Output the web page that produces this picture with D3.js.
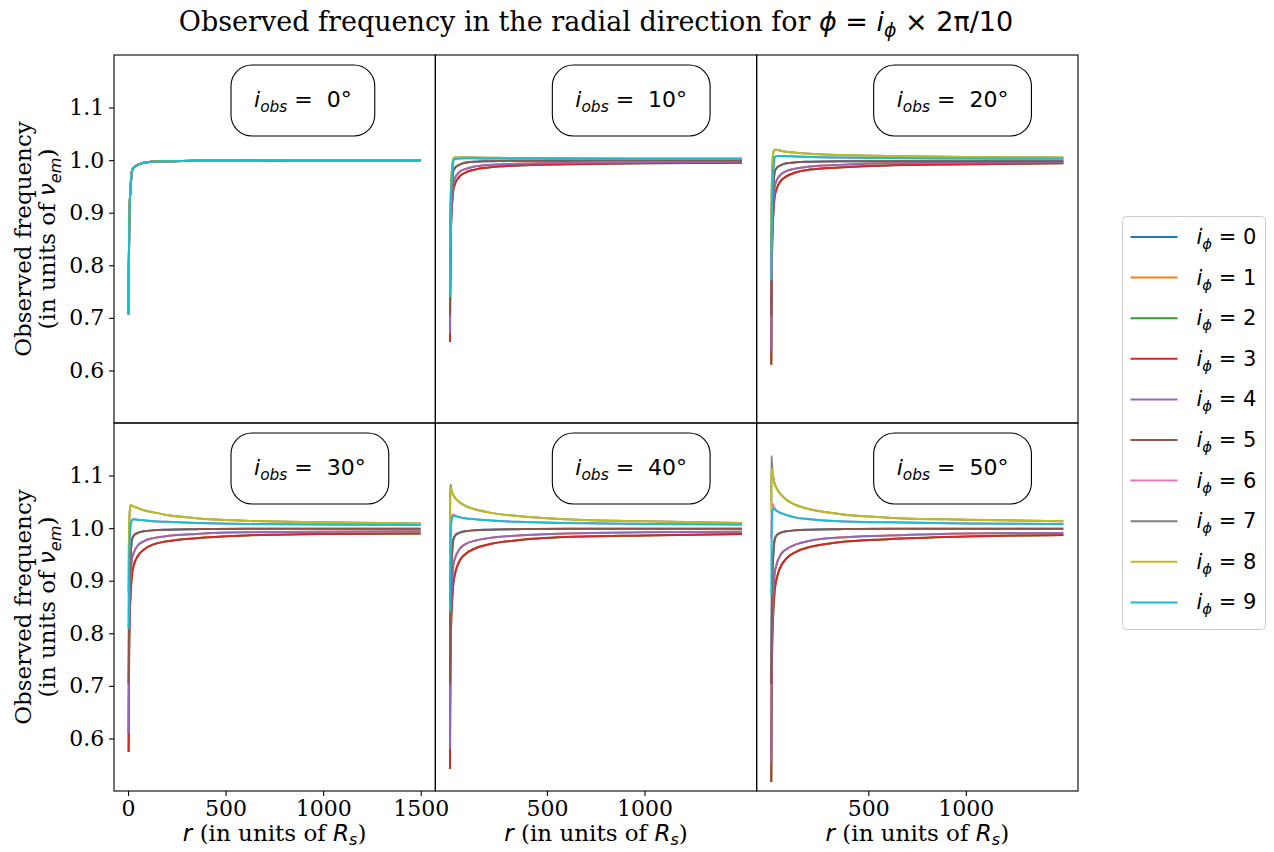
<!DOCTYPE html>
<html>
<head>
<meta charset="utf-8">
<script src="https://cdn.jsdelivr.net/npm/d3@7"></script>
<style>
  body { margin: 0; background: #fff; }
  svg { display: block; }
</style>
</head>
<body>
<svg id="chart" width="1274" height="852"></svg>
<script>
// Radii (in units of R_s) at which the observed frequency is sampled
const radii = [3, 4, 6, 9, 14, 20, 30, 50, 80, 130, 200, 350, 600, 1000, 1500];

// Observer inclinations, one panel each
const inclinations = [0, 10, 20, 30, 40, 50];

// Azimuth indices i_phi (phi = i_phi * 2pi/10)
const phiIndex = [0, 1, 2, 3, 4, 5, 6, 7, 8, 9];

const yTicks = [0.6, 0.7, 0.8, 0.9, 1.0, 1.1];
const xTicksFirst = [0, 500, 1000, 1500];
const xTicksOther = [500, 1000];

// Observed frequency (units of nu_em), one row per i_phi
const nuIncl0 = [
  [0.707, 0.794, 0.870, 0.919, 0.954, 0.979, 0.986, 0.991, 0.995, 0.997, 0.998, 0.999, 0.999, 1.000, 1.000],
  [0.707, 0.794, 0.870, 0.919, 0.954, 0.979, 0.986, 0.991, 0.995, 0.997, 0.998, 0.999, 0.999, 1.000, 1.000],
  [0.707, 0.794, 0.870, 0.919, 0.954, 0.979, 0.986, 0.991, 0.995, 0.997, 0.998, 0.999, 0.999, 1.000, 1.000],
  [0.707, 0.794, 0.870, 0.919, 0.954, 0.979, 0.986, 0.991, 0.995, 0.997, 0.998, 0.999, 0.999, 1.000, 1.000],
  [0.707, 0.794, 0.870, 0.919, 0.954, 0.979, 0.986, 0.991, 0.995, 0.997, 0.998, 0.999, 0.999, 1.000, 1.000],
  [0.707, 0.794, 0.870, 0.919, 0.954, 0.979, 0.986, 0.991, 0.995, 0.997, 0.998, 0.999, 0.999, 1.000, 1.000],
  [0.707, 0.794, 0.870, 0.919, 0.954, 0.979, 0.986, 0.991, 0.995, 0.997, 0.998, 0.999, 0.999, 1.000, 1.000],
  [0.707, 0.794, 0.870, 0.919, 0.954, 0.979, 0.986, 0.991, 0.995, 0.997, 0.998, 0.999, 0.999, 1.000, 1.000],
  [0.707, 0.794, 0.870, 0.919, 0.954, 0.979, 0.986, 0.991, 0.995, 0.997, 0.998, 0.999, 0.999, 1.000, 1.000],
  [0.707, 0.794, 0.870, 0.919, 0.954, 0.979, 0.986, 0.991, 0.995, 0.997, 0.998, 0.999, 0.999, 1.000, 1.000]
];

const nuIncl10 = [
  [0.705, 0.793, 0.869, 0.918, 0.954, 0.979, 0.986, 0.991, 0.995, 0.997, 0.998, 0.999, 0.999, 1.000, 1.000],
  [0.671, 0.762, 0.842, 0.893, 0.930, 0.956, 0.967, 0.977, 0.983, 0.988, 0.991, 0.993, 0.995, 0.996, 0.997],
  [0.654, 0.746, 0.827, 0.879, 0.917, 0.943, 0.956, 0.968, 0.976, 0.982, 0.986, 0.990, 0.992, 0.994, 0.995],
  [0.654, 0.746, 0.827, 0.879, 0.917, 0.943, 0.956, 0.968, 0.976, 0.982, 0.986, 0.990, 0.992, 0.994, 0.995],
  [0.671, 0.762, 0.842, 0.893, 0.930, 0.956, 0.967, 0.977, 0.983, 0.988, 0.991, 0.993, 0.995, 0.996, 0.997],
  [0.705, 0.793, 0.869, 0.918, 0.954, 0.979, 0.986, 0.991, 0.995, 0.997, 0.998, 0.999, 0.999, 1.000, 1.000],
  [0.740, 0.823, 0.895, 0.942, 0.975, 0.999, 1.002, 1.003, 1.0035, 1.0035, 1.003, 1.003, 1.0025, 1.002, 1.002],
  [0.760, 0.840, 0.910, 0.955, 0.985, 1.003, 1.005, 1.005, 1.005, 1.005, 1.0045, 1.004, 1.0035, 1.003, 1.003],
  [0.760, 0.840, 0.910, 0.955, 0.985, 1.003, 1.005, 1.005, 1.005, 1.005, 1.0045, 1.004, 1.0035, 1.003, 1.003],
  [0.740, 0.823, 0.895, 0.942, 0.975, 0.999, 1.002, 1.003, 1.0035, 1.0035, 1.003, 1.003, 1.0025, 1.002, 1.002]
];

const nuIncl20 = [
  [0.705, 0.793, 0.869, 0.918, 0.953, 0.977, 0.985, 0.990, 0.994, 0.996, 0.997, 0.998, 0.998, 0.998, 0.998],
  [0.638, 0.737, 0.824, 0.880, 0.920, 0.948, 0.961, 0.972, 0.979, 0.984, 0.988, 0.991, 0.994, 0.995, 0.996],
  [0.611, 0.713, 0.802, 0.860, 0.901, 0.930, 0.945, 0.960, 0.969, 0.977, 0.982, 0.986, 0.990, 0.992, 0.994],
  [0.611, 0.713, 0.802, 0.860, 0.901, 0.930, 0.945, 0.960, 0.969, 0.977, 0.982, 0.986, 0.990, 0.992, 0.994],
  [0.638, 0.737, 0.824, 0.880, 0.920, 0.948, 0.961, 0.972, 0.979, 0.984, 0.988, 0.991, 0.994, 0.995, 0.996],
  [0.705, 0.793, 0.869, 0.918, 0.953, 0.977, 0.985, 0.990, 0.994, 0.996, 0.997, 0.998, 0.998, 0.998, 0.998],
  [0.773, 0.845, 0.910, 0.955, 0.985, 1.005, 1.008, 1.008, 1.0075, 1.007, 1.006, 1.005, 1.004, 1.003, 1.0025],
  [0.830, 0.900, 0.960, 0.995, 1.015, 1.020, 1.020, 1.018, 1.016, 1.014, 1.012, 1.010, 1.008, 1.006, 1.005],
  [0.830, 0.900, 0.960, 0.995, 1.015, 1.020, 1.020, 1.018, 1.016, 1.014, 1.012, 1.010, 1.008, 1.006, 1.005],
  [0.773, 0.845, 0.910, 0.955, 0.985, 1.005, 1.008, 1.008, 1.0075, 1.007, 1.006, 1.005, 1.004, 1.003, 1.0025]
];

const nuIncl30 = [
  [0.704, 0.792, 0.868, 0.917, 0.953, 0.978, 0.986, 0.991, 0.994, 0.996, 0.997, 0.998, 0.999, 0.999, 0.999],
  [0.609, 0.715, 0.808, 0.868, 0.911, 0.941, 0.954, 0.967, 0.975, 0.981, 0.985, 0.989, 0.992, 0.993, 0.994],
  [0.574, 0.682, 0.776, 0.837, 0.881, 0.911, 0.930, 0.947, 0.959, 0.969, 0.975, 0.981, 0.986, 0.989, 0.990],
  [0.574, 0.682, 0.776, 0.837, 0.881, 0.911, 0.930, 0.947, 0.959, 0.969, 0.975, 0.981, 0.986, 0.989, 0.990],
  [0.609, 0.715, 0.808, 0.868, 0.911, 0.941, 0.954, 0.967, 0.975, 0.981, 0.985, 0.989, 0.992, 0.993, 0.994],
  [0.704, 0.792, 0.868, 0.917, 0.953, 0.978, 0.986, 0.991, 0.994, 0.996, 0.997, 0.998, 0.999, 0.999, 0.999],
  [0.809, 0.880, 0.945, 0.985, 1.008, 1.015, 1.017, 1.016, 1.015, 1.013, 1.012, 1.010, 1.008, 1.007, 1.006],
  [0.880, 0.950, 1.005, 1.033, 1.044, 1.043, 1.041, 1.038, 1.034, 1.030, 1.025, 1.019, 1.014, 1.011, 1.009],
  [0.880, 0.950, 1.005, 1.033, 1.044, 1.043, 1.041, 1.038, 1.034, 1.030, 1.025, 1.019, 1.014, 1.011, 1.009],
  [0.809, 0.880, 0.945, 0.985, 1.008, 1.015, 1.017, 1.016, 1.015, 1.013, 1.012, 1.010, 1.008, 1.007, 1.006]
];

const nuIncl40 = [
  [0.705, 0.793, 0.869, 0.918, 0.953, 0.978, 0.986, 0.991, 0.994, 0.996, 0.997, 0.998, 0.999, 0.999, 0.999],
  [0.580, 0.692, 0.789, 0.852, 0.898, 0.929, 0.944, 0.959, 0.969, 0.976, 0.981, 0.986, 0.990, 0.992, 0.993],
  [0.542, 0.655, 0.753, 0.817, 0.862, 0.894, 0.915, 0.936, 0.950, 0.961, 0.969, 0.977, 0.983, 0.986, 0.989],
  [0.542, 0.655, 0.753, 0.817, 0.862, 0.894, 0.915, 0.936, 0.950, 0.961, 0.969, 0.977, 0.983, 0.986, 0.989],
  [0.580, 0.692, 0.789, 0.852, 0.898, 0.929, 0.944, 0.959, 0.969, 0.976, 0.981, 0.986, 0.990, 0.992, 0.993],
  [0.705, 0.793, 0.869, 0.918, 0.953, 0.978, 0.986, 0.991, 0.994, 0.996, 0.997, 0.998, 0.999, 0.999, 0.999],
  [0.842, 0.910, 0.975, 1.012, 1.024, 1.026, 1.024, 1.021, 1.019, 1.017, 1.015, 1.012, 1.010, 1.008, 1.007],
  [0.950, 1.060, 1.083, 1.076, 1.068, 1.063, 1.057, 1.050, 1.043, 1.036, 1.030, 1.023, 1.017, 1.013, 1.010],
  [0.950, 1.040, 1.078, 1.075, 1.068, 1.063, 1.057, 1.050, 1.043, 1.036, 1.030, 1.023, 1.017, 1.013, 1.010],
  [0.842, 0.910, 0.970, 1.005, 1.020, 1.023, 1.023, 1.021, 1.019, 1.017, 1.015, 1.012, 1.010, 1.008, 1.007]
];

const nuIncl50 = [
  [0.704, 0.792, 0.868, 0.917, 0.953, 0.978, 0.986, 0.991, 0.994, 0.996, 0.997, 0.998, 0.999, 0.999, 0.999],
  [0.553, 0.668, 0.769, 0.834, 0.881, 0.913, 0.931, 0.949, 0.960, 0.969, 0.976, 0.982, 0.986, 0.990, 0.991],
  [0.517, 0.633, 0.735, 0.800, 0.847, 0.880, 0.903, 0.926, 0.942, 0.955, 0.964, 0.973, 0.979, 0.984, 0.987],
  [0.517, 0.633, 0.735, 0.800, 0.847, 0.880, 0.903, 0.926, 0.942, 0.955, 0.964, 0.973, 0.979, 0.984, 0.987],
  [0.553, 0.668, 0.769, 0.834, 0.881, 0.913, 0.931, 0.949, 0.960, 0.969, 0.976, 0.982, 0.986, 0.990, 0.991],
  [0.704, 0.792, 0.868, 0.917, 0.953, 0.978, 0.986, 0.991, 0.994, 0.996, 0.997, 0.998, 0.999, 0.999, 0.999],
  [0.980, 1.020, 1.040, 1.047, 1.043, 1.038, 1.033, 1.029, 1.025, 1.020, 1.017, 1.013, 1.011, 1.009, 1.008],
  [1.050, 1.137, 1.125, 1.108, 1.095, 1.085, 1.076, 1.065, 1.054, 1.044, 1.036, 1.027, 1.020, 1.016, 1.013],
  [1.030, 1.090, 1.114, 1.105, 1.094, 1.085, 1.076, 1.065, 1.054, 1.044, 1.036, 1.027, 1.020, 1.016, 1.013],
  [0.872, 0.950, 1.010, 1.032, 1.037, 1.036, 1.033, 1.029, 1.025, 1.020, 1.017, 1.013, 1.011, 1.009, 1.008]
];

const panelData = [nuIncl0, nuIncl10, nuIncl20, nuIncl30, nuIncl40, nuIncl50];

// matplotlib tab10 cycle
const colors = ["#1f77b4", "#ff7f0e", "#2ca02c", "#d62728", "#9467bd",
                "#8c564b", "#e377c2", "#7f7f7f", "#bcbd22", "#17becf"];

const SERIF = "'DejaVu Serif', 'Liberation Serif', serif";
const SANS = "'DejaVu Sans', 'Liberation Sans', sans-serif";

const TICK_FONT = 22;
const LABEL_FONT = 23;

const svg = d3.select("#chart");

// grid of 2 x 3 panels sharing both axes
const gridLeft = 114, gridTop = 55, gridRight = 1078;
const pw = (gridRight - gridLeft) / 3;
const ph = 368;

const x = d3.scaleLinear().domain([-72, 1575]).range([0, pw]);
const y = d3.scaleLinear().domain([0.5, 1.2]).range([ph, 0]);

const line = d3.line()
  .x(d => x(d[0]))
  .y(d => y(d[1]))
  .curve(d3.curveMonotoneX);

// Appends tspans: plain, italic and subscripted pieces of a label
function rich(textSel, parts, size, dropRatio = 0.24) {
  let lowered = false;
  const drop = size * dropRatio;
  parts.forEach(p => {
    const ts = textSel.append("tspan").text(p.t);
    ts.attr("font-family", p.f === "sans" ? SANS : SERIF);
    if (p.i) ts.attr("font-style", "italic");
    if (p.sub) {
      ts.attr("font-size", size * 0.7);
      if (!lowered) { ts.attr("dy", drop); lowered = true; }
    } else {
      ts.attr("font-size", size);
      if (lowered) { ts.attr("dy", -drop); lowered = false; }
    }
  });
}

panelData.forEach((rows, k) => {
  const col = k % 3, row = Math.floor(k / 3);
  const g = svg.append("g")
    .attr("transform", `translate(${gridLeft + col * pw},${gridTop + row * ph})`);

  // curves for each azimuth
  phiIndex.forEach(i => {
    g.append("path")
      .datum(radii.map((r, j) => [r, rows[i][j]]))
      .attr("d", line)
      .attr("fill", "none")
      .attr("stroke", colors[i])
      .attr("stroke-width", 2)
      .attr("stroke-linejoin", "round");
  });

  // inclination label in a rounded box
  const ann = g.append("g");
  const label = ann.append("text")
    .attr("x", 117 + 23)
    .attr("y", 52)
    .attr("fill", "#000");
  rich(label, [
    { t: "i", f: "sans", i: true },
    { t: "obs", f: "sans", i: true, sub: true },
    { t: " =\u00a0 " + inclinations[k] + "°", f: "sans" }
  ], 22);
  const tw = label.node().getComputedTextLength();
  ann.insert("rect", "text")
    .attr("x", 117)
    .attr("y", 10)
    .attr("width", tw + 46)
    .attr("height", 71)
    .attr("rx", 21)
    .attr("ry", 21)
    .attr("fill", "#fff")
    .attr("stroke", "#000")
    .attr("stroke-width", 1.1);

  // frame
  g.append("rect")
    .attr("width", pw)
    .attr("height", ph)
    .attr("fill", "none")
    .attr("stroke", "#000")
    .attr("stroke-width", 1.1);

  // y axis on the first column only
  if (col === 0) {
    const ya = g.append("g")
      .call(d3.axisLeft(y).tickValues(yTicks).tickSize(4.9).tickPadding(4.9)
        .tickFormat(d3.format(".1f")));
    ya.select(".domain").remove();
    ya.selectAll("text").attr("font-family", SERIF).attr("font-size", TICK_FONT).attr("fill", "#000");
    ya.selectAll("line").attr("stroke", "#000").attr("stroke-width", 1.1);

    const ylab = svg.append("g")
      .attr("transform", `translate(0,${gridTop + row * ph + ph / 2})`);
    ylab.append("text")
      .attr("transform", "translate(31,0) rotate(-90)")
      .attr("text-anchor", "middle")
      .attr("font-family", SERIF).attr("font-size", LABEL_FONT)
      .text("Observed frequency");
    const l2 = ylab.append("text")
      .attr("transform", "translate(55,0) rotate(-90)")
      .attr("text-anchor", "middle");
    rich(l2, [
      { t: "(in units of " },
      { t: "ν", f: "sans", i: true },
      { t: "em", f: "sans", i: true, sub: true },
      { t: ")" }
    ], LABEL_FONT);
  }

  // x axis on the bottom row only
  if (row === 1) {
    const xa = g.append("g")
      .attr("transform", `translate(0,${ph})`)
      .call(d3.axisBottom(x).tickValues(col === 0 ? xTicksFirst : xTicksOther)
        .tickSize(4.9).tickPadding(4.9).tickFormat(d3.format("d")));
    xa.select(".domain").remove();
    xa.selectAll("text").attr("font-family", SERIF).attr("font-size", TICK_FONT).attr("fill", "#000");
    xa.selectAll("line").attr("stroke", "#000").attr("stroke-width", 1.1);

    const xl = g.append("text")
      .attr("x", pw / 2)
      .attr("y", ph + 50)
      .attr("text-anchor", "middle");
    rich(xl, [
      { t: "r", f: "sans", i: true },
      { t: " (in units of " },
      { t: "R", f: "sans", i: true },
      { t: "s", f: "sans", i: true, sub: true },
      { t: ")" }
    ], LABEL_FONT, 0.18);
  }
});

// title
const title = svg.append("text")
  .attr("x", (gridLeft + gridRight) / 2)
  .attr("y", 31)
  .attr("text-anchor", "middle");
rich(title, [
  { t: "Observed frequency in the radial direction for " },
  { t: "ϕ", f: "sans", i: true },
  { t: " = ", f: "sans" },
  { t: "i", f: "sans", i: true },
  { t: "ϕ", f: "sans", i: true, sub: true },
  { t: " × 2π/10", f: "sans" }
], 27);

// legend
const legend = svg.append("g").attr("transform", "translate(1122.5,216.5)");
legend.append("rect")
  .attr("width", 143)
  .attr("height", 413)
  .attr("rx", 4).attr("ry", 4)
  .attr("fill", "#fff")
  .attr("stroke", "#cccccc")
  .attr("stroke-width", 1);
phiIndex.forEach(i => {
  const ly = 20.5 + i * 40.6;
  legend.append("line")
    .attr("x1", 8).attr("x2", 55)
    .attr("y1", ly).attr("y2", ly)
    .attr("stroke", colors[i])
    .attr("stroke-width", 2);
  const t = legend.append("text")
    .attr("x", 74)
    .attr("y", ly + 7);
  rich(t, [
    { t: "i", f: "sans", i: true },
    { t: "ϕ", f: "sans", i: true, sub: true },
    { t: " = " + i, f: "sans" }
  ], 21);
});
</script>
</body>
</html>
